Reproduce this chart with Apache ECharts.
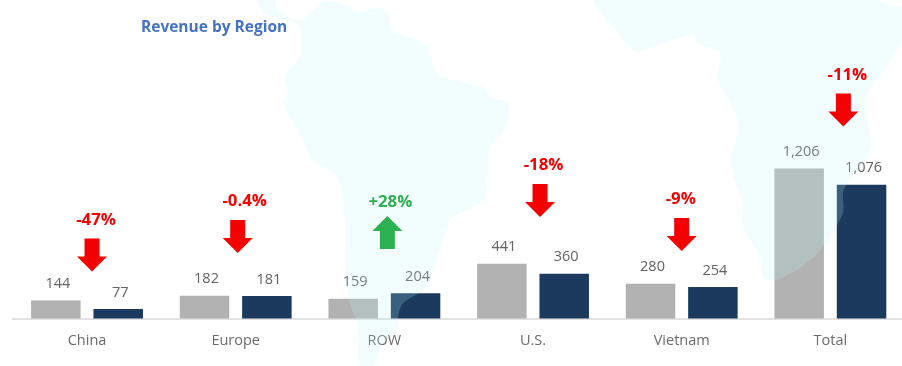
<!DOCTYPE html>
<html>
<head>
<meta charset="utf-8">
<style>html,body{margin:0;padding:0;background:#fff;overflow:hidden;width:902px;height:366px}#c{width:910px;height:366px}</style>
<script src="https://cdn.jsdelivr.net/npm/echarts@6/dist/echarts.min.js"></script>
</head>
<body>
<div id="c"></div>
<script>
const categories = ['China', 'Europe', 'ROW', 'U.S.', 'Vietnam', 'Total'];
const priorValues = [144, 182, 159, 441, 280, 1206];
const currentValues = [77, 181, 204, 360, 254, 1076];
const changeLabels = ['-47%', '-0.4%', '+28%', '-18%', '-9%', '-11%'];
// Height of each arrow's middle on the value scale
const arrowLevels = [510, 659, 691, 948, 675, 1676];
const arrowShiftX = [5, 2, 3, 7, 0, 13];
const labelShiftX = [4, 7, 3, 3.5, -1, 4];

const mapOutlines = [
  [[257,0],[262,10],[273,17],[290,21],[300,27],[300,57],[284,76],[288,92],[283,103],[303,140],[312,160],[337,177],[345,220],[345,263],[350,303],[358,327],[360,366],[373,366],[383,343],[398,327],[398,317],[403,303],[427,287],[443,240],[450,220],[470,208],[485,200],[488,173],[490,147],[503,132],[509,117],[507,103],[492,98],[485,88],[460,82],[437,73],[427,47],[393,30],[388,13],[380,7],[360,12],[337,2],[323,2],[310,13],[302,20],[290,17],[278,10],[275,0]],
  [[595,0],[607,20],[633,50],[640,52],[663,43],[693,35],[697,43],[720,53],[718,80],[737,117],[738,133],[730,160],[743,207],[743,227],[760,257],[763,278],[773,281],[800,268],[823,247],[843,213],[843,193],[847,183],[863,163],[872,147],[865,100],[883,72],[902,40],[902,7],[888,6],[877,0]]
];

const chart = echarts.init(document.getElementById('c'), null, {renderer: 'canvas'});
const barLabel = {
  show: true, position: 'top', distance: 9, offset: [2, 0],
  fontFamily: 'Open Sans', fontSize: 14.5, color: '#636363',
  formatter: p => p.value.toLocaleString('en-US')
};
chart.setOption({
  animation: false,
  backgroundColor: '#fff',
  title: {
    text: 'Revenue by Region', left: 136, top: 15,
    textStyle: {fontFamily: 'Open Sans', fontSize: 15.5, fontWeight: 'bold', color: '#4472C4'}
  },
  grid: {left: 12.7, top: 18.5, width: 892, height: 300},
  xAxis: {
    type: 'category', data: categories,
    axisTick: {show: false},
    axisLine: {lineStyle: {color: '#E2E2E2', width: 2}},
    axisLabel: {fontFamily: 'Open Sans', fontSize: 14.5, color: '#6A6A6A', margin: 15}
  },
  yAxis: {type: 'value', min: 0, max: 2412, show: false, splitLine: {show: false}},
  series: [
    {name: 'Prior', type: 'bar', data: priorValues, barWidth: 49.5, barGap: '26%',
     itemStyle: {color: '#B2B2B2'}, label: barLabel},
    {name: 'Current', type: 'bar', data: currentValues, barWidth: 49.5,
     itemStyle: {color: '#1B3A5E'}, label: barLabel},
    {name: 'Change', type: 'custom', z: 60, clip: false, silent: true,
     data: arrowLevels.map((v, i) => [i, v]),
     encode: {x: 0, y: 1},
     renderItem: (params, api) => {
       const i = params.dataIndex;
       const c = api.coord([api.value(0), api.value(1)]);
       const up = changeLabels[i][0] === '+';
       const x = c[0] + arrowShiftX[i], y = c[1];
       const color = up ? '#2DB04F' : '#F40000';
       const d = up ? -1 : 1;
       const pts = [[-7.5,-16.5],[7.5,-16.5],[7.5,1.5],[15,1.5],[0,16.5],[-15,1.5],[-7.5,1.5]]
         .map(p => [x + p[0], y + p[1] * d]);
       return {type: 'group', children: [
         {type: 'polygon', shape: {points: pts}, style: {fill: color}},
         {type: 'text', style: {
           x: x + labelShiftX[i], y: y - (up ? 30.5 : 35),
           text: changeLabels[i], fill: color,
           font: 'bold 16.8px "Open Sans"', align: 'center', verticalAlign: 'middle'
         }}
       ]};
     }}
  ],
  graphic: mapOutlines.map(points => ({
    type: 'polygon', z: 50, silent: true,
    shape: {points: points, smooth: 0.25},
    style: {fill: 'rgba(190,248,252,0.2)'}
  }))
});
</script>
</body>
</html>
